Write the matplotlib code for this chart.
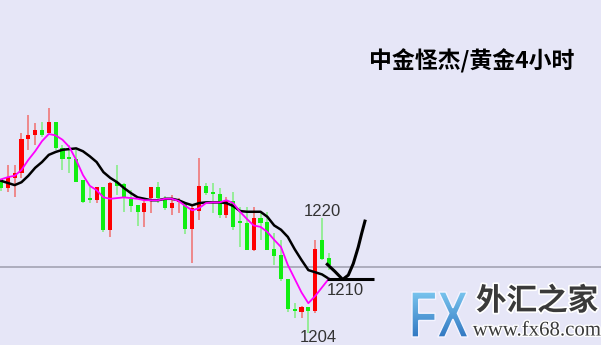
import matplotlib
matplotlib.use("Agg")
import matplotlib.pyplot as plt
import numpy as np
from matplotlib.textpath import TextPath
from matplotlib.patches import PathPatch
from matplotlib.font_manager import FontProperties
from matplotlib.transforms import Affine2D
import matplotlib.patheffects as pe

# 4-hour gold candles (open, high, low, close)
opens = [1225.4, 1224.2, 1225.6, 1226.3, 1231.0, 1231.5, 1232.2, 1231.8, 1233.4, 1229.7,
         1228.4, 1228.2, 1225.3, 1222.8, 1222.5, 1224.3, 1218.4, 1225.0, 1224.7, 1222.7,
         1221.8, 1220.9, 1222.8, 1224.3, 1222.8, 1221.4, 1222.2, 1222.1, 1218.5, 1221.0,
         1224.5, 1223.6, 1223.4, 1220.4, 1222.4, 1219.6, 1219.3, 1215.6, 1220.0, 1219.5,
         1215.7, 1214.9, 1211.6, 1207.4, 1207.0, 1207.7, 1207.1, 1217.0, 1214.5]
highs = [1225.4, 1227.4, 1227.4, 1231.8, 1234.3, 1233.2, 1233.4, 1235.3, 1233.4, 1230.2,
         1230.2, 1229.5, 1225.3, 1224.3, 1224.3, 1224.3, 1225.0, 1227.4, 1224.9, 1223.9,
         1221.8, 1222.8, 1224.3, 1225.0, 1223.1, 1223.2, 1222.8, 1222.2, 1221.8, 1228.4,
         1224.9, 1224.9, 1224.2, 1222.9, 1223.6, 1221.6, 1221.6, 1221.6, 1220.9, 1220.9,
         1217.9, 1217.0, 1211.6, 1208.2, 1207.8, 1207.7, 1217.0, 1220.0, 1215.2]
lows = [1223.8, 1223.6, 1222.9, 1225.6, 1229.5, 1230.2, 1231.3, 1231.8, 1229.5, 1226.7,
        1226.3, 1225.0, 1222.1, 1222.1, 1222.1, 1218.1, 1217.4, 1223.2, 1220.9, 1220.9,
        1218.9, 1218.8, 1220.7, 1222.1, 1221.1, 1220.4, 1220.7, 1217.8, 1213.8, 1219.7,
        1223.2, 1220.7, 1220.0, 1220.0, 1218.4, 1216.0, 1215.6, 1215.4, 1217.0, 1215.6,
        1213.5, 1211.3, 1207.0, 1206.1, 1206.1, 1204.0, 1206.8, 1214.2, 1212.8]
closes = [1224.2, 1225.7, 1226.3, 1231.0, 1231.5, 1232.2, 1231.5, 1233.4, 1229.7, 1228.2,
          1228.2, 1225.0, 1222.2, 1222.5, 1224.3, 1218.4, 1224.9, 1224.5, 1222.8, 1221.7,
          1220.9, 1222.1, 1224.3, 1222.8, 1221.4, 1222.1, 1222.5, 1218.5, 1221.4, 1224.5,
          1223.5, 1223.4, 1220.4, 1222.5, 1218.8, 1219.3, 1215.6, 1220.0, 1219.3, 1215.6,
          1214.7, 1211.6, 1207.4, 1207.1, 1207.7, 1207.1, 1215.7, 1214.3, 1213.5]

# moving averages
ma_fast = [1225.4, 1225.7, 1225.9, 1226.7, 1228.1, 1229.3, 1230.7, 1231.7, 1231.5, 1230.9,
           1229.9, 1228.1, 1226.0, 1224.5, 1223.9, 1222.9, 1222.7, 1222.8, 1222.9, 1222.8,
           1222.7, 1222.5, 1222.5, 1222.5, 1222.7, 1222.7, 1222.4, 1221.7, 1221.1, 1221.4,
           1222.1, 1222.2, 1222.2, 1222.5, 1222.1, 1220.9, 1219.9, 1219.0, 1218.8, 1218.1,
           1217.0, 1216.0, 1213.5, 1211.6, 1209.7, 1208.2, 1209.2, 1210.4, 1211.6]
ma_slow = [1225.2, 1224.9, 1224.6, 1225.0, 1225.9, 1227.0, 1227.8, 1228.8, 1229.2, 1229.5,
           1229.6, 1229.7, 1229.3, 1228.6, 1227.8, 1226.4, 1225.6, 1225.0, 1224.2, 1223.5,
           1222.9, 1222.7, 1222.5, 1222.5, 1222.7, 1222.7, 1222.5, 1222.1, 1221.8, 1222.1,
           1222.2, 1222.2, 1222.2, 1222.1, 1221.7, 1221.0, 1220.9, 1220.9, 1220.9, 1220.2,
           1219.0, 1218.4, 1217.4, 1215.7, 1214.2, 1212.8, 1212.5, 1212.2, 1211.6]

# hand drawn projection
sketch_x = [47.77, 48.90, 50.03, 50.85, 51.58, 52.31, 52.81, 53.29]
sketch_y = [1213.6, 1212.6, 1211.5, 1212.1, 1213.7, 1216.0, 1217.9, 1219.6]
support_x = [47.7, 54.6]
support_level = 1211.6
ref_level = 1213.2

labels = ["1220", "1210", "1204"]
label_x = [47.1, 50.4, 46.4]
label_y = [1220.9, 1209.9, 1203.4]

bg = '#E6E6F7'
fig = plt.figure(figsize=(6.01, 3.45), dpi=100)
fig.patch.set_facecolor(bg)
ax = fig.add_axes([0, 0, 1, 1])
ax.set_facecolor(bg)
ax.axis('off')
ax.set_xlim(-0.146, 87.85)
ax.set_ylim(1202.4, 1250.3)

ax.axhline(ref_level, color='#A8A8B8', lw=1.3, zorder=1)

idx = np.arange(len(opens))
for i in idx:
    o, h, l, c = opens[i], highs[i], lows[i], closes[i]
    up = c > o
    body_col = '#FF0000' if up else '#11EE11'
    wick_col = '#F07878' if up else '#88EE88'
    ax.vlines(i, l, h, color=wick_col, lw=1.2, zorder=2)
    ax.bar(i, max(abs(c - o), 0.25), bottom=min(o, c), width=0.6,
           color=body_col, zorder=3)

ax.plot(idx, ma_slow, color='black', lw=1.8, zorder=4)
ax.plot(idx, ma_fast, color='#FF00FF', lw=1.3, zorder=5)

ax.plot(support_x, [support_level, support_level], color='black', lw=2.2,
        zorder=6, solid_capstyle='butt')
ax.plot(sketch_x, sketch_y, color='black', lw=2.2, zorder=6)

for t, x, y in zip(labels, label_x, label_y):
    ax.text(x, y, t, ha='center', va='center', fontsize=12,
            family='Liberation Sans', color='#333333', zorder=7)

fig.text(472 / 601, 1 - 61 / 345, '中金怪杰/黄金4小时', ha='center', va='center',
         fontsize=16.5, fontweight='bold', color='black',
         family=['Noto Sans CJK SC', 'DejaVu Sans'])

# watermark
tp = TextPath((0, 0), 'FX', size=1,
              prop=FontProperties(family='Liberation Sans', weight='bold'))
bb = tp.get_extents()
trans = (Affine2D().translate(-bb.x0, -bb.y0)
         .scale(56 / bb.width, 45 / bb.height).translate(412, 345 - 337))
clip = PathPatch(tp, transform=trans, facecolor='none', edgecolor='none')
logo_ax = fig.add_axes([405 / 601, 5 / 345, 70 / 601, 52 / 345])
logo_ax.axis('off')
grad = np.linspace(0, 1, 64).reshape(-1, 1)
cmap = matplotlib.colors.LinearSegmentedColormap.from_list('fx', ['#80CCF2', '#2E74C0'])
img = logo_ax.imshow(grad, aspect='auto', cmap=cmap, extent=[0, 1, 0, 1])
img.set_clip_path(clip)
fig.add_artist(PathPatch(tp, transform=trans, facecolor='none',
                         edgecolor='#F4F4FF', lw=1.0))

fig.text(537 / 601, 1 - 301 / 345, '外汇之家', ha='center', va='center',
         fontsize=22, fontweight='heavy', color='#3A3A3A',
         family=['Noto Sans CJK SC', 'DejaVu Sans'],
         path_effects=[pe.withStroke(linewidth=2.5, foreground='white')])
fig.text(537 / 601, 1 - 331 / 345, 'www.fx68.com', ha='center', va='center',
         fontsize=15, color='#3A3A3A', family='Liberation Serif',
         path_effects=[pe.withStroke(linewidth=2, foreground='white')])

fig.savefig('out.png', dpi=100, facecolor=bg)
